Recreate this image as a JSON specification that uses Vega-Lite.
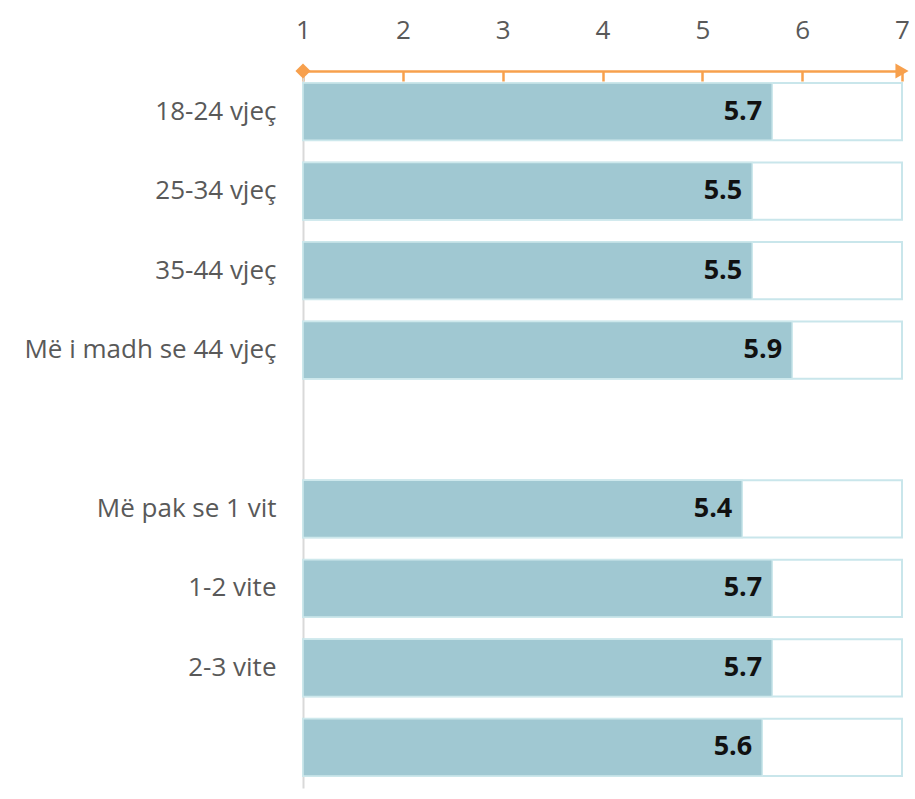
{
  "$schema": "https://vega.github.io/schema/vega-lite/v6.json",
  "width": 599,
  "height": 717,
  "autosize": {"type": "none"},
  "padding": {"left": 303, "top": 71, "right": 13, "bottom": 11},
  "background": "white",
  "config": {
    "view": {"stroke": null},
    "font": "Open Sans"
  },
  "data": {
    "values": [
      {"grupi": "18-24 vjeç", "vlera": 5.7},
      {"grupi": "25-34 vjeç", "vlera": 5.5},
      {"grupi": "35-44 vjeç", "vlera": 5.5},
      {"grupi": "Më i madh se 44 vjeç", "vlera": 5.9},
      {"grupi": "Më pak se 1 vit", "vlera": 5.4},
      {"grupi": "1-2 vite", "vlera": 5.7},
      {"grupi": "2-3 vite", "vlera": 5.7},
      {"grupi": "  ", "vlera": 5.6}
    ]
  },
  "encoding": {
    "y": {
      "field": "grupi",
      "type": "nominal",
      "sort": null,
      "scale": {
        "domain": ["18-24 vjeç", "25-34 vjeç", "35-44 vjeç", "Më i madh se 44 vjeç", " ", "Më pak se 1 vit", "1-2 vite", "2-3 vite", "  "],
        "paddingInner": 0.28,
        "paddingOuter": 0.15
      },
      "axis": {
        "title": null,
        "orient": "left",
        "ticks": false,
        "domain": true,
        "domainColor": "#d9d9d9",
        "domainWidth": 2,
        "labelFont": "Open Sans",
        "labelFontSize": 26,
        "labelColor": "#595959",
        "labelPadding": 27,
        "labelLimit": 400
      }
    }
  },
  "layer": [
    {
      "mark": {"type": "bar", "fill": "white", "stroke": "#c9e6eb", "strokeWidth": 2},
      "encoding": {
        "x": {
          "datum": 1,
          "type": "quantitative",
          "scale": {"domain": [1, 7], "zero": false, "nice": false},
          "axis": {
            "orient": "top",
            "title": null,
            "values": [1, 2, 3, 4, 5, 6, 7],
            "format": "d",
            "grid": false,
            "domainColor": "#f7a04d",
            "domainWidth": 2.5,
            "tickColor": "#f7a04d",
            "tickWidth": 2.5,
            "tickSize": -10,
            "labelFont": "Open Sans",
            "labelFontSize": 26,
            "labelColor": "#595959",
            "labelPadding": 38,
            "labelFlush": false
          }
        },
        "x2": {"datum": 7}
      }
    },
    {
      "mark": {"type": "bar", "fill": "#a0c8d2", "stroke": "#cde8ec", "strokeWidth": 1.5},
      "encoding": {
        "x": {"field": "vlera", "type": "quantitative"},
        "x2": {"datum": 1}
      }
    },
    {
      "mark": {"type": "text", "align": "right", "baseline": "middle", "dx": -10, "font": "Open Sans", "fontWeight": "bold", "fontSize": 27, "color": "#111111"},
      "encoding": {
        "x": {"field": "vlera", "type": "quantitative"},
        "text": {"field": "vlera", "type": "quantitative", "format": ".1f"}
      }
    },
    {
      "data": {
        "values": [
          {"kufiri": 1, "forma": "diamond", "zhvendosja": 0},
          {"kufiri": 7, "forma": "triangle-right", "zhvendosja": -7}
        ]
      },
      "mark": {"type": "point", "filled": true, "opacity": 1, "color": "#f7a04d", "size": 230, "clip": false},
      "encoding": {
        "x": {"field": "kufiri", "type": "quantitative"},
        "xOffset": {"field": "zhvendosja", "type": "quantitative", "scale": null},
        "y": {"value": 0},
        "shape": {"field": "forma", "type": "nominal", "scale": null, "legend": null}
      }
    }
  ]
}
